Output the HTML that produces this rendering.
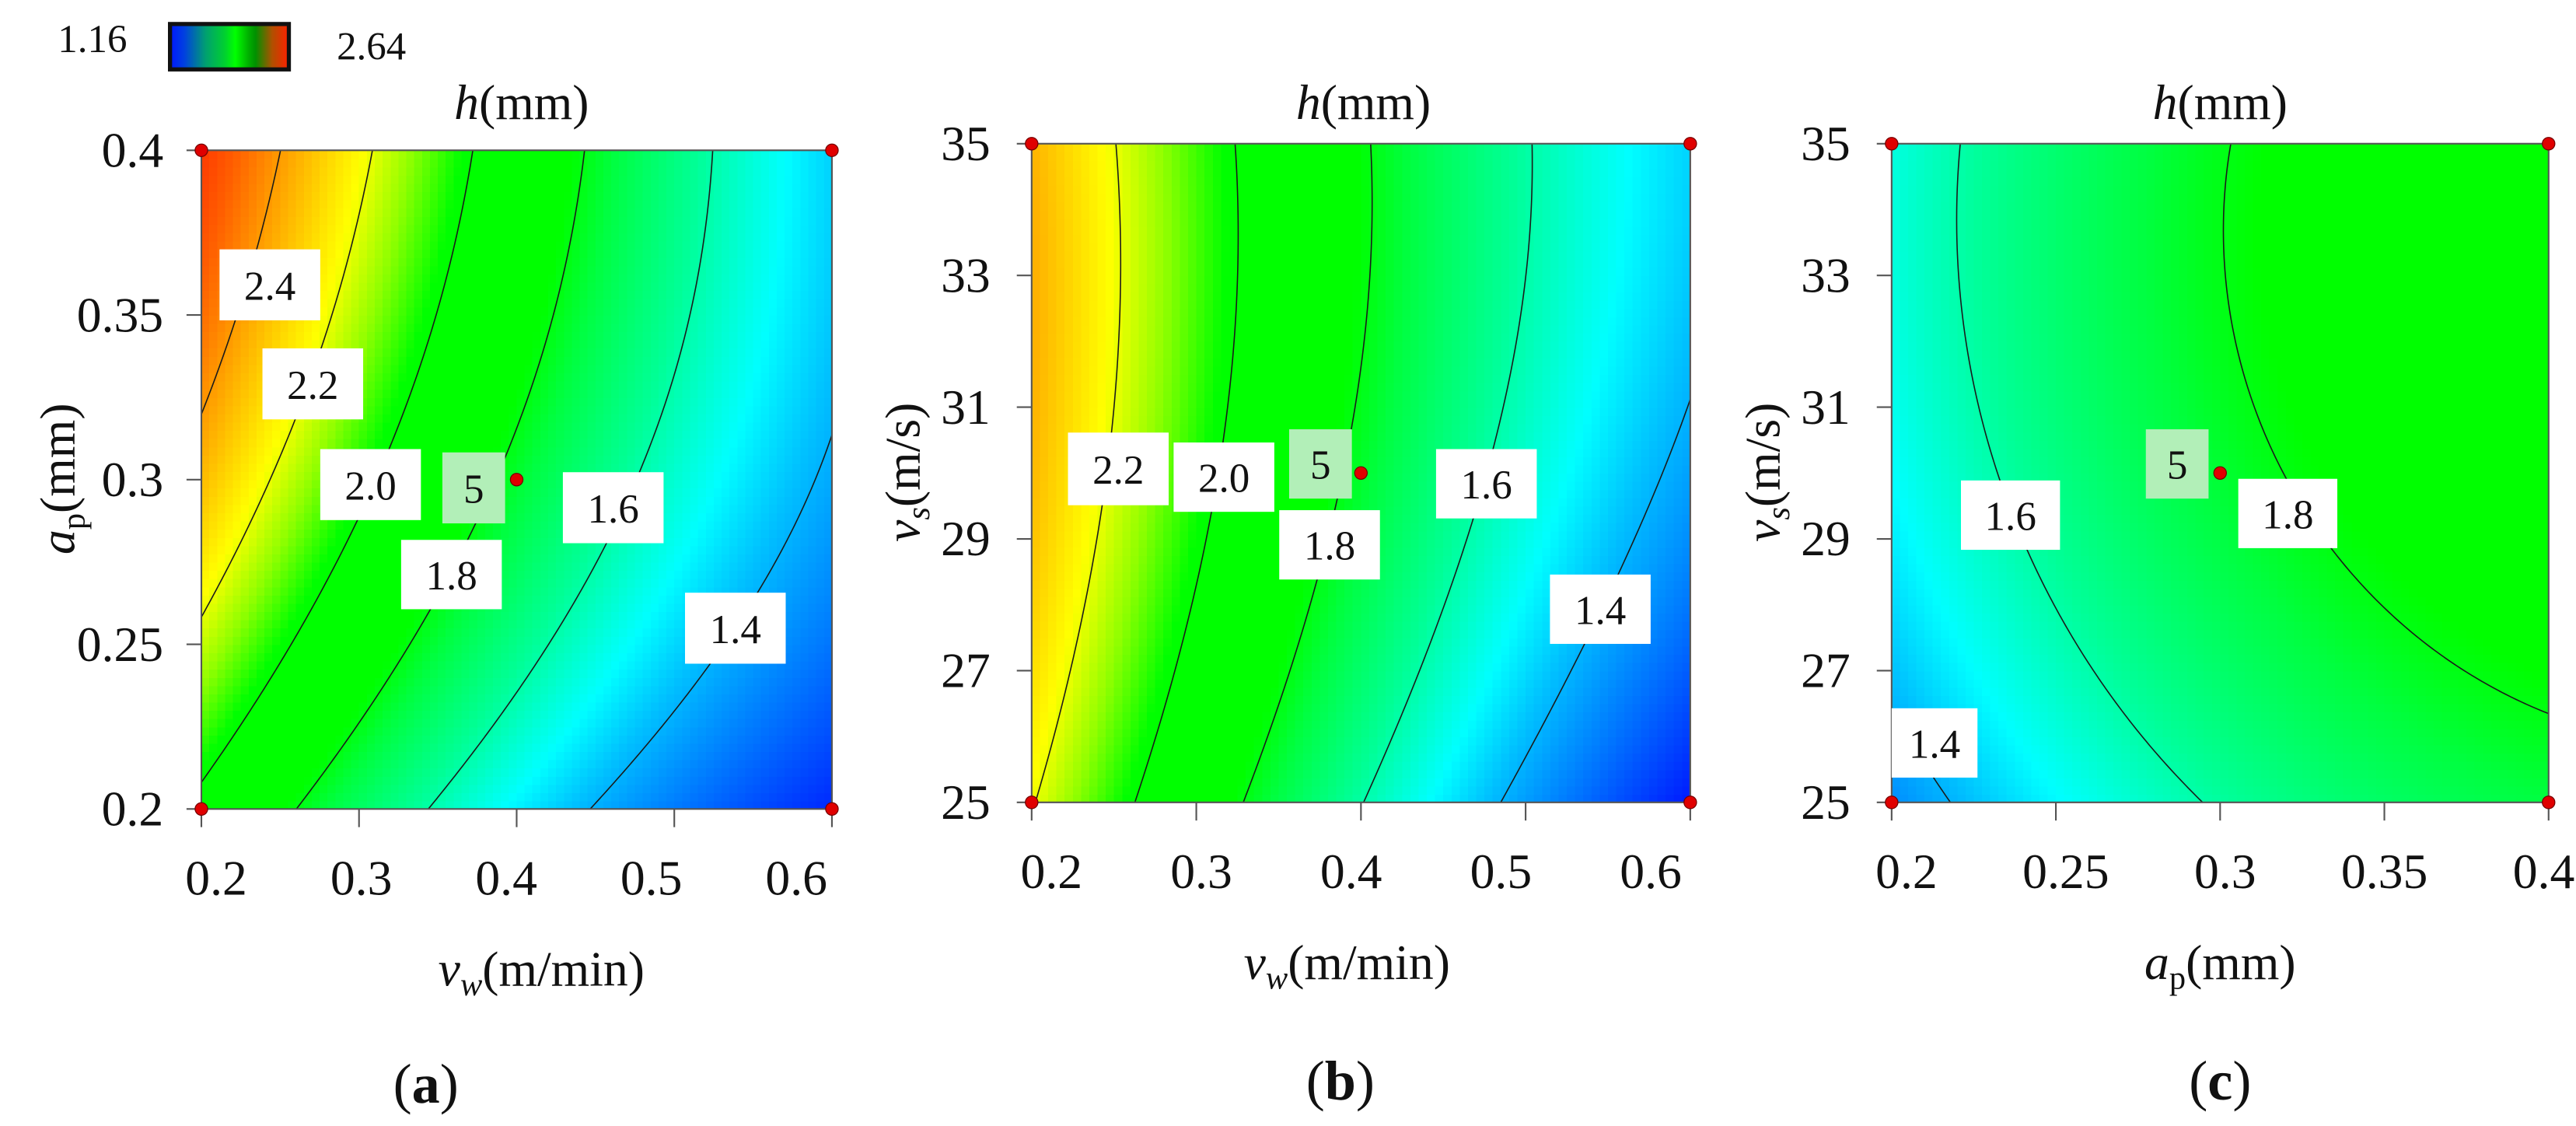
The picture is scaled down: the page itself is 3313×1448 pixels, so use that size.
<!DOCTYPE html>
<html><head><meta charset="utf-8">
<style>
html,body{margin:0;padding:0;background:#fff;}
svg{display:block;}
svg text{font-family:"Liberation Serif","DejaVu Serif",serif;fill:#111;}
</style></head>
<body>
<svg id="fig" xmlns="http://www.w3.org/2000/svg" width="3313" height="1448" viewBox="0 0 1560.6 682">
<defs>
<linearGradient id="cbGrad" x1="0" x2="1" y1="0" y2="0">
<stop offset="0" stop-color="#0018ff"/><stop offset="0.12" stop-color="#0040e0"/>
<stop offset="0.3" stop-color="#00a070"/><stop offset="0.46" stop-color="#00d030"/>
<stop offset="0.55" stop-color="#00ff00"/><stop offset="0.66" stop-color="#00b000"/>
<stop offset="0.72" stop-color="#009000"/><stop offset="0.86" stop-color="#b05000"/>
<stop offset="1" stop-color="#ff2000"/>
</linearGradient>
</defs>
<g>
<rect x="103" y="14.5" width="72" height="27.5" fill="url(#cbGrad)" stroke="#111" stroke-width="2.5"/>
<text x="56" y="31.5" font-size="24" text-anchor="middle">1.16</text>
<text x="225" y="36" font-size="24" text-anchor="middle">2.64</text>
</g>
</svg>
<script>
// ---------- data ----------
const levels = [1.4, 1.6, 1.8, 2.0, 2.2, 2.4];
// panel (a): vw vs ap
const aX = [0.2, 0.3, 0.4, 0.5, 0.6];
const aY = [0.2, 0.25, 0.3, 0.35, 0.4];
const aZ0 = [1.965, 1.706, 1.494, 1.316, 1.18];
const aZ1 = [2.17, 1.859, 1.632, 1.471, 1.315];
const aZ2 = [2.344, 2.037, 1.765, 1.551, 1.39];
const aZ3 = [2.48, 2.155, 1.857, 1.614, 1.42];
const aZ4 = [2.58, 2.235, 1.918, 1.651, 1.45];
const aXTicks = ["0.2", "0.3", "0.4", "0.5", "0.6"];
const aYTicks = ["0.2", "0.25", "0.3", "0.35", "0.4"];
// panel (b): vw vs vs
const bX = [0.2, 0.3, 0.4, 0.5, 0.6];
const bY = [25, 27.5, 30, 32.5, 35];
const bZ0 = [2.20, 1.88, 1.60, 1.38, 1.17];
const bZ1 = [2.30, 1.98, 1.70, 1.48, 1.28];
const bZ2 = [2.35, 2.05, 1.78, 1.565, 1.37];
const bZ3 = [2.355, 2.06, 1.795, 1.585, 1.42];
const bZ4 = [2.36, 2.07, 1.81, 1.60, 1.46];
const bXTicks = ["0.2", "0.3", "0.4", "0.5", "0.6"];
const bYTicks = ["25", "27", "29", "31", "33", "35"];
// panel (c): ap vs vs
const cX = [0.2, 0.25, 0.3, 0.35, 0.4];
const cY = [25, 27.5, 30, 32.5, 35];
const cZ0 = [1.35, 1.47, 1.605, 1.71, 1.75];
const cZ1 = [1.45, 1.575, 1.70, 1.795, 1.835];
const cZ2 = [1.52, 1.635, 1.78, 1.85, 1.89];
const cZ3 = [1.53, 1.66, 1.805, 1.875, 1.91];
const cZ4 = [1.53, 1.675, 1.81, 1.88, 1.92];
const cXTicks = ["0.2", "0.25", "0.3", "0.35", "0.4"];
const cYTicks = ["25", "27", "29", "31", "33", "35"];

const NS = "http://www.w3.org/2000/svg";
const FONT = "'Liberation Serif', 'DejaVu Serif', serif";
const svg = document.getElementById('fig');
function el(tag, attrs, parent) {
  const e = document.createElementNS(NS, tag);
  for (const k in attrs) e.setAttribute(k, attrs[k]);
  if (tag === 'text') e.setAttribute('font-family', FONT);
  (parent || svg).appendChild(e);
  return e;
}
const stops = [[1.16,[0,16,255]],[1.3,[0,112,255]],[1.42,[0,192,255]],[1.5,[0,255,255]],[1.62,[0,255,152]],[1.75,[0,255,64]],[1.82,[0,255,0]],[2.02,[0,255,0]],[2.12,[144,255,0]],[2.22,[255,255,0]],[2.36,[255,176,0]],[2.5,[255,96,0]],[2.64,[255,32,0]]];
function color(v) {
  if (v <= stops[0][0]) return 'rgb(' + stops[0][1].join(',') + ')';
  for (let i = 1; i < stops.length; i++) {
    if (v <= stops[i][0]) {
      const t = (v - stops[i-1][0]) / (stops[i][0] - stops[i-1][0]);
      const a = stops[i-1][1], b = stops[i][1];
      return 'rgb(' + a.map((c, k) => Math.round(c + (b[k] - c) * t)).join(',') + ')';
    }
  }
  return 'rgb(' + stops[stops.length-1][1].join(',') + ')';
}
// least-squares quadratic response surface fit on the grid
function fitQuad(Z) {
  const nv = Z.length, nu = Z[0].length;
  const A = [], b = [];
  for (let j = 0; j < nv; j++) for (let i = 0; i < nu; i++) {
    const u = i / (nu - 1), v = j / (nv - 1);
    A.push([1, u, v, u*u, v*v, u*v]); b.push(Z[j][i]);
  }
  const n = 6, M = [];
  for (let r = 0; r < n; r++) {
    M[r] = [];
    for (let c = 0; c < n; c++) { let s = 0; for (let k = 0; k < A.length; k++) s += A[k][r] * A[k][c]; M[r][c] = s; }
    let s = 0; for (let k = 0; k < A.length; k++) s += A[k][r] * b[k]; M[r][n] = s;
  }
  for (let c = 0; c < n; c++) {
    let p = c; for (let r = c + 1; r < n; r++) if (Math.abs(M[r][c]) > Math.abs(M[p][c])) p = r;
    [M[c], M[p]] = [M[p], M[c]];
    for (let r = 0; r < n; r++) if (r !== c) { const f = M[r][c] / M[c][c]; for (let k = c; k <= n; k++) M[r][k] -= f * M[c][k]; }
  }
  const co = M.map((row, r) => row[n] / row[r]);
  return (u, v) => co[0] + co[1]*u + co[2]*v + co[3]*u*u + co[4]*v*v + co[5]*u*v;
}

function panel(cfg) {
  const g = el('g', {});
  
  
  const {x0, x1, y0, y1, X, Y, Z} = cfg;
  const xmin = X[0], xmax = X[X.length-1], ymin = Y[0], ymax = Y[Y.length-1];
  const px = x => x0 + (x - xmin) / (xmax - xmin) * (x1 - x0);
  const py = y => y1 - (y - ymin) / (ymax - ymin) * (y1 - y0);
  const F = fitQuad(Z);
  const hm = el('g', {'shape-rendering': 'crispEdges'}, g);
  
  
  const N = 80;
  const cw = (x1 - x0) / N, ch = (y1 - y0) / N;
  for (let j = 0; j < N; j++) {
    for (let i = 0; i < N; i++) {
      const xv = xmin + (i + 0.5) / N * (xmax - xmin);
      const yv = ymin + (j + 0.5) / N * (ymax - ymin);
      const z = F((xv - xmin) / (xmax - xmin), (yv - ymin) / (ymax - ymin));
      const r = el('rect', {x: (px(xv) - cw/2).toFixed(2), y: (py(yv) - ch/2).toFixed(2), width: (cw + 0.4).toFixed(2), height: (ch + 0.4).toFixed(2), fill: color(z)}, hm);
      
      
    }
  }
  const M = 120;
  const f = [];
  for (let j = 0; j <= M; j++) { f[j] = []; for (let i = 0; i <= M; i++) f[j][i] = F(i / M, j / M); }
  const gx = i => px(xmin + i / M * (xmax - xmin));
  const gy = j => py(ymin + j / M * (ymax - ymin));
  levels.forEach(L => {
    let d = '';
    for (let j = 0; j < M; j++) for (let i = 0; i < M; i++) {
      const c = [[i,j,f[j][i]],[i+1,j,f[j][i+1]],[i+1,j+1,f[j+1][i+1]],[i,j+1,f[j+1][i]]];
      const pts = [];
      for (let k = 0; k < 4; k++) {
        const a = c[k], b = c[(k+1)%4];
        const sa = a[2] >= L, sb = b[2] >= L;
        if (sa !== sb) {
          const t = (L - a[2]) / (b[2] - a[2]);
          pts.push([gx(a[0] + (b[0]-a[0])*t), gy(a[1] + (b[1]-a[1])*t)]);
        }
      }
      for (let k = 0; k + 1 < pts.length; k += 2)
        d += 'M' + pts[k][0].toFixed(2) + ' ' + pts[k][1].toFixed(2) + 'L' + pts[k+1][0].toFixed(2) + ' ' + pts[k+1][1].toFixed(2);
    }
    if (d) {
      const p = el('path', {d: d, fill: 'none', stroke: '#1a1a1a', 'stroke-width': 0.75, 'stroke-linecap': 'round'}, g);
      
      
    }
  });
  const fr = el('rect', {x: x0, y: y0, width: x1 - x0, height: y1 - y0, fill: 'none', stroke: '#555', 'stroke-width': 1}, g);
  
  
  cfg.xTicks.forEach(t => {
    const xv = parseFloat(t);
    const tk = el('line', {x1: px(xv), x2: px(xv), y1: y1, y2: y1 + 11, stroke: '#555', 'stroke-width': 1}, g);
    
    
    const lx = px(xv) + cfg.xLabShift[0] + cfg.xLabShift[1] * (px(xv) - x0);
    const tx = el('text', {x: lx, y: cfg.xLabY, 'font-size': 30, 'text-anchor': 'middle'}, g);
    tx.textContent = t;
    
    
  });
  cfg.yTicks.forEach(t => {
    const yv = parseFloat(t);
    const tk = el('line', {x1: x0 - 9, x2: x0, y1: py(yv), y2: py(yv), stroke: '#555', 'stroke-width': 1}, g);
    
    
    const tx = el('text', {x: cfg.yLabX, y: py(yv) + 10, 'font-size': 30, 'text-anchor': 'end'}, g);
    tx.textContent = t;
    
    
  });
  cfg.labels.forEach(lb => {
    const [bx, by, bw, bh, txt, green] = lb;
    const r = el('rect', {x: bx, y: by, width: bw, height: bh, fill: green ? '#b2efb8' : '#ffffff'}, g);
    
    
    const tx = el('text', {x: bx + bw/2, y: by + bh/2 + 9, 'font-size': 25, 'text-anchor': 'middle'}, g);
    tx.textContent = txt;
    
    
  });
  const cx = (xmin + xmax) / 2, cy = (ymin + ymax) / 2;
  [[xmin,ymin],[xmin,ymax],[xmax,ymin],[xmax,ymax],[cx,cy]].forEach(p => {
    const c = el('circle', {cx: px(p[0]), cy: py(p[1]), r: 3.8, fill: '#e00000', stroke: '#700', 'stroke-width': 0.6}, g);
    
    
  });
}

panel({name: 'panel-a', x0: 122, x1: 504, y0: 91, y1: 490, X: aX, Y: aY, Z: [aZ0, aZ1, aZ2, aZ3, aZ4],
  xTicks: aXTicks, yTicks: aYTicks, xLabY: 542, xLabShift: [9, -0.08], yLabX: 99,
  labels: [[133,151,61,43,'2.4'],[159,211,61,43,'2.2'],[194,272,61,43,'2.0'],[268,274,38,43,'5',true],[341,286,61,43,'1.6'],[243,327,61,42,'1.8'],[415,359,61,43,'1.4']]});
panel({name: 'panel-b', x0: 625, x1: 1024, y0: 87, y1: 486, X: bX, Y: bY, Z: [bZ0, bZ1, bZ2, bZ3, bZ4],
  xTicks: bXTicks, yTicks: bYTicks, xLabY: 538, xLabShift: [12, -0.09], yLabX: 600,
  labels: [[647,262,61,44,'2.2'],[711,268,61,42,'2.0'],[781,260,38,42,'5',true],[775,309,61,42,'1.8'],[870,272,61,42,'1.6'],[939,348,61,42,'1.4']]});
panel({name: 'panel-c', x0: 1146, x1: 1544, y0: 87, y1: 486, X: cX, Y: cY, Z: [cZ0, cZ1, cZ2, cZ3, cZ4],
  xTicks: cXTicks, yTicks: cYTicks, xLabY: 538, xLabShift: [9, -0.03], yLabX: 1121,
  labels: [[1300,260,38,42,'5',true],[1356,290,60,42,'1.8'],[1188,291,60,42,'1.6'],[1146,429,52,42,'1.4']]});

function txt(html, attrs, name) {
  const t = el('text', attrs);
  t.innerHTML = html;
  
  
}
txt('<tspan font-style="italic">h</tspan>(mm)', {x: 316, y: 72, 'font-size': 30, 'text-anchor': 'middle'}, 'title-a');
txt('<tspan font-style="italic">h</tspan>(mm)', {x: 826, y: 72, 'font-size': 30, 'text-anchor': 'middle'}, 'title-b');
txt('<tspan font-style="italic">h</tspan>(mm)', {x: 1345, y: 72, 'font-size': 30, 'text-anchor': 'middle'}, 'title-c');
txt('<tspan font-style="italic">v</tspan><tspan font-style="italic" font-size="20" dy="6">w</tspan><tspan dy="-6">(m/min)</tspan>', {x: 328, y: 597, 'font-size': 30, 'text-anchor': 'middle'}, 'x-axis-title-a');
txt('<tspan font-style="italic">v</tspan><tspan font-style="italic" font-size="20" dy="6">w</tspan><tspan dy="-6">(m/min)</tspan>', {x: 816, y: 593, 'font-size': 30, 'text-anchor': 'middle'}, 'x-axis-title-b');
txt('<tspan font-style="italic">a</tspan><tspan font-size="20" dy="6">p</tspan><tspan dy="-6">(mm)</tspan>', {x: 1345, y: 593, 'font-size': 30, 'text-anchor': 'middle'}, 'x-axis-title-c');
txt('<tspan font-style="italic">a</tspan><tspan font-size="20" dy="6">p</tspan><tspan dy="-6">(mm)</tspan>', {x: 35, y: 300, 'font-size': 30, 'text-anchor': 'middle', transform: 'rotate(-90,35,290)'}, 'y-axis-title-a');
txt('<tspan font-style="italic">v</tspan><tspan font-style="italic" font-size="20" dy="6">s</tspan><tspan dy="-6">(m/s)</tspan>', {x: 547, y: 296, 'font-size': 30, 'text-anchor': 'middle', transform: 'rotate(-90,547,286)'}, 'y-axis-title-b');
txt('<tspan font-style="italic">v</tspan><tspan font-style="italic" font-size="20" dy="6">s</tspan><tspan dy="-6">(m/s)</tspan>', {x: 1068, y: 296, 'font-size': 30, 'text-anchor': 'middle', transform: 'rotate(-90,1068,286)'}, 'y-axis-title-c');
txt('(<tspan font-weight="bold">a</tspan>)', {x: 258, y: 668, 'font-size': 34, 'text-anchor': 'middle'}, 'panel-label-a');
txt('(<tspan font-weight="bold">b</tspan>)', {x: 812, y: 666, 'font-size': 34, 'text-anchor': 'middle'}, 'panel-label-b');
txt('(<tspan font-weight="bold">c</tspan>)', {x: 1345, y: 666, 'font-size': 34, 'text-anchor': 'middle'}, 'panel-label-c');
</script>
</body></html>
